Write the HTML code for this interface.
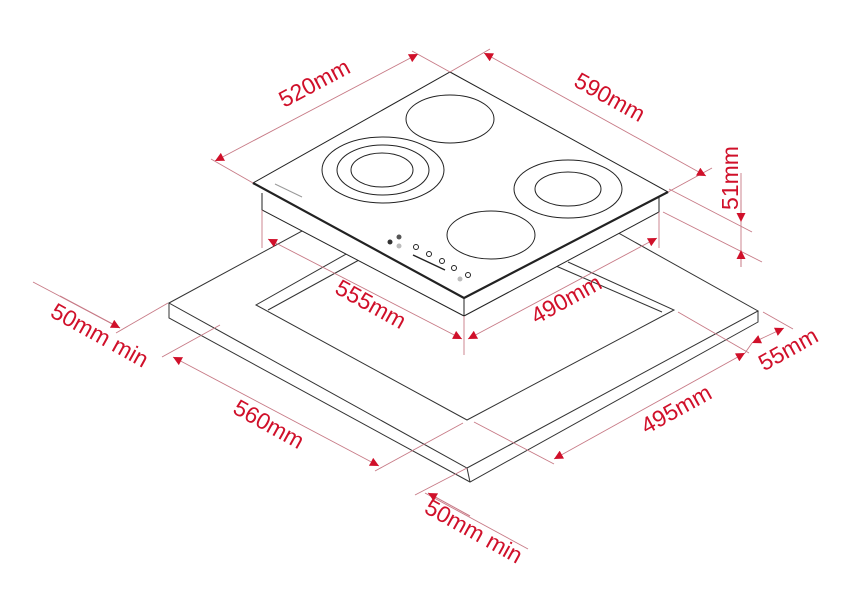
<!DOCTYPE html>
<html><head><meta charset="utf-8"><style>
html,body{margin:0;padding:0;background:#fff;}
svg{display:block;}
text{font-family:"Liberation Sans",sans-serif;font-size:23px;fill:#d0102a;}
</style></head><body>
<svg width="855" height="597" viewBox="0 0 855 597" xmlns="http://www.w3.org/2000/svg">
<defs>
<marker id="a" viewBox="0 0 10 10" refX="10" refY="5" markerWidth="9" markerHeight="9" orient="auto-start-reverse" markerUnits="userSpaceOnUse">
<path d="M0,0 L10,5 L0,10 z" fill="#d0102a"/></marker>
</defs>
<g fill="none" stroke="#333" stroke-width="1">
<polygon points="169,303 461,145 758,311 467,468" fill="#fff"/>
<polyline points="169,303 169,318 470,482 758,322 758,311"/>
<line x1="467" y1="468" x2="470" y2="482"/>
<polyline points="348,253 256,305 467,420 674,310 568,262"/>
<polyline points="359,260 268,310"/>
<polyline points="556,266 662,312"/>
</g>
<g stroke="#222" fill="#fff">
<polygon points="253,183 262,193 262,210 464,316 659,212 659,197 668,192 450,72" stroke="none"/>
<polyline points="262,193 262,210 464,316 659,212 659,197" fill="none" stroke-width="1"/>
<line x1="464" y1="298" x2="464" y2="316" stroke-width="1"/>
<polygon points="253,183 450,72 668,192 464,298" stroke-width="1"/>
<polyline points="253,183 464,298 668,192" fill="none" stroke-width="2.2"/>
</g>
<g fill="none" stroke="#222" stroke-width="1">
<ellipse cx="450" cy="119" rx="44" ry="24"/>
<ellipse cx="383" cy="170" rx="61" ry="33"/>
<ellipse cx="383" cy="170" rx="46" ry="25"/>
<ellipse cx="382" cy="170" rx="31" ry="17"/>
<ellipse cx="568" cy="189" rx="54" ry="29"/>
<ellipse cx="568" cy="189" rx="33" ry="17"/>
<ellipse cx="491" cy="235" rx="44" ry="24"/>
<circle cx="416" cy="247" r="2.5"/><circle cx="429" cy="254" r="2.5"/><circle cx="442" cy="261" r="2.5"/><circle cx="454" cy="268" r="2.5"/><circle cx="468" cy="275" r="2.5"/>
<line x1="413" y1="255" x2="445" y2="270" stroke-width="1.5"/>
<line x1="275" y1="184" x2="302" y2="197" stroke="#999" stroke-width="1"/>
</g>
<circle cx="390" cy="242" r="2.5" fill="#333"/><circle cx="399" cy="237" r="2.5" fill="#555"/>
<circle cx="399" cy="246" r="2.5" fill="#bbb"/><circle cx="460" cy="279" r="2.5" fill="#bbb"/>
<g stroke="#c77a86" stroke-width="0.9" fill="none">
<line x1="253" y1="183" x2="211" y2="159"/>
<line x1="450" y1="72" x2="412" y2="51"/>
<line x1="450" y1="72" x2="490" y2="49"/>
<line x1="668" y1="192" x2="712" y2="168"/>
<line x1="669" y1="189" x2="752" y2="232"/>
<line x1="663" y1="212" x2="762" y2="262"/>
<line x1="741" y1="173" x2="741" y2="267"/>
<line x1="262" y1="210" x2="262" y2="248"/>
<line x1="464" y1="316" x2="464" y2="355"/>
<line x1="659" y1="212" x2="659" y2="248"/>
<line x1="168" y1="303" x2="116" y2="333"/>
<line x1="220" y1="325" x2="162" y2="357"/>
<line x1="463" y1="423" x2="375" y2="471"/>
<line x1="467" y1="468" x2="415" y2="495"/>
<line x1="474" y1="422" x2="554" y2="464"/>
<line x1="678" y1="312" x2="749" y2="353"/>
<line x1="763" y1="312" x2="793" y2="329"/>
<line x1="33" y1="282" x2="120" y2="328"/>
<line x1="425" y1="493" x2="528" y2="549"/>
<line x1="745" y1="353" x2="752" y2="343"/>
</g>
<g stroke="#c77a86" stroke-width="0.9" fill="none" marker-start="url(#a)" marker-end="url(#a)">
<line x1="215" y1="161" x2="418" y2="54"/>
<line x1="484" y1="53" x2="706" y2="176"/>
<line x1="268" y1="239" x2="462" y2="339"/>
<line x1="468" y1="339" x2="657" y2="238"/>
<line x1="173" y1="357" x2="379" y2="466"/>
<line x1="554" y1="459" x2="745" y2="353"/>
<line x1="752" y1="343" x2="784" y2="328"/>
</g>
<g>
<line x1="60" y1="296" x2="120" y2="328" stroke="#c77a86" marker-end="url(#a)"/>
<line x1="470" y1="516" x2="428" y2="493" stroke="#c77a86" marker-end="url(#a)"/>
<line x1="741" y1="200" x2="741" y2="222" stroke="#c77a86" marker-end="url(#a)"/>
<line x1="741" y1="267" x2="741" y2="250" stroke="#c77a86" marker-end="url(#a)"/>
</g>
<text transform="translate(318,90) rotate(-28)" text-anchor="middle">520mm</text>
<text transform="translate(606,104) rotate(29)" text-anchor="middle">590mm</text>
<text transform="translate(738,178) rotate(-90)" text-anchor="middle">51mm</text>
<text transform="translate(367,311) rotate(29)" text-anchor="middle">555mm</text>
<text transform="translate(570,306) rotate(-29)" text-anchor="middle">490mm</text>
<text transform="translate(96,342) rotate(29)" text-anchor="middle">50mm min</text>
<text transform="translate(265,431) rotate(29)" text-anchor="middle">560mm</text>
<text transform="translate(470,538) rotate(29)" text-anchor="middle">50mm min</text>
<text transform="translate(680,416) rotate(-29)" text-anchor="middle">495mm</text>
<text transform="translate(792,356) rotate(-29)" text-anchor="middle">55mm</text>
</svg>
</body></html>
